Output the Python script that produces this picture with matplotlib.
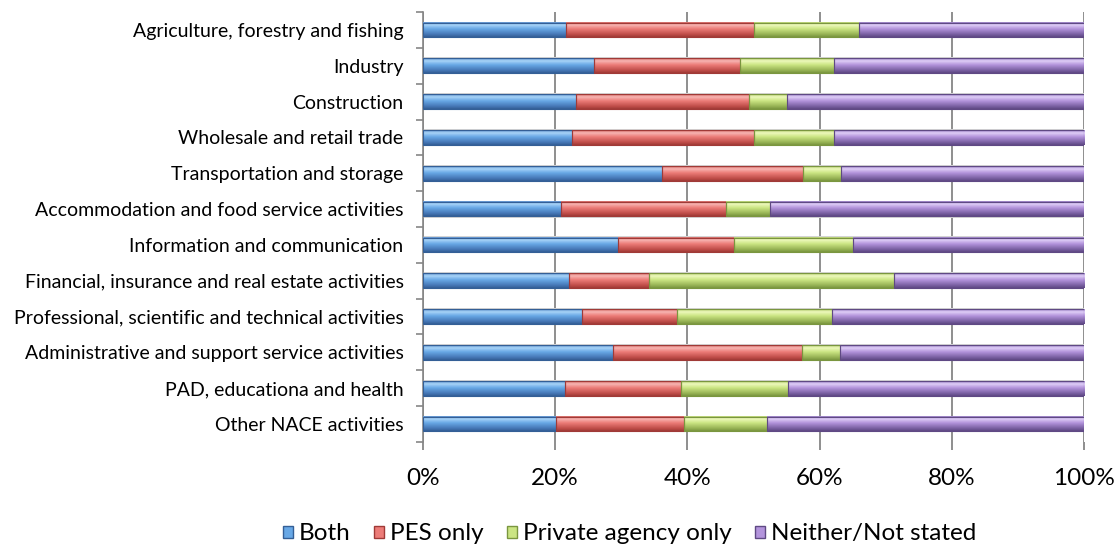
import numpy as np
import matplotlib
matplotlib.use("Agg")
import matplotlib.pyplot as plt
from matplotlib.colors import LinearSegmentedColormap
from matplotlib.patches import Patch
from matplotlib.ticker import FixedLocator, PercentFormatter

plt.rcParams["font.family"] = ["Lato", "DejaVu Sans"]

sectors = [
    "Agriculture, forestry and fishing",
    "Industry",
    "Construction",
    "Wholesale and retail trade",
    "Transportation and storage",
    "Accommodation and food service activities",
    "Information and communication",
    "Financial, insurance and real estate activities",
    "Professional, scientific and technical activities",
    "Administrative and support service activities",
    "PAD, educationa and health",
    "Other NACE activities",
]

# share of recruitment channel use, percent
both = [21.6, 25.8, 23.1, 22.6, 36.1, 20.9, 29.5, 22.1, 24.1, 28.7, 21.5, 20.1]
pes_only = [28.5, 22.1, 26.2, 27.5, 21.4, 25.0, 17.6, 12.1, 14.3, 28.7, 17.5, 19.4]
private_only = [15.9, 14.3, 5.8, 12.0, 5.8, 6.6, 18.0, 37.0, 23.4, 5.7, 16.2, 12.6]
neither = [34.0, 37.8, 44.9, 37.9, 36.7, 47.5, 34.9, 28.8, 38.2, 36.9, 44.8, 47.9]

series_names = ["Both", "PES only", "Private agency only", "Neither/Not stated"]
series_values = [both, pes_only, private_only, neither]

# shading for the bevelled bars: top edge, highlight, body, shadow, bottom edge
shades = {
    "Both": ["#5b8fcc", "#a9d4f8", "#68a8e6", "#4677b6", "#345f96"],
    "PES only": ["#d16662", "#f8b6b3", "#ec7c78", "#c04e4a", "#a03a37"],
    "Private agency only": ["#b2cc6c", "#eef9bd", "#cbe583", "#97b355", "#7a963f"],
    "Neither/Not stated": ["#957ac0", "#e0cff8", "#b394dc", "#7a60a2", "#5f4984"],
}
stops = [0.0, 0.18, 0.45, 0.82, 1.0]

fig = plt.figure(figsize=(11.18, 5.46), dpi=100)
ax = fig.add_axes([0.3784, 0.1905, 0.5912, 0.7875])

y = np.arange(len(sectors))
bar_h = 0.41
left = np.zeros(len(sectors))
totals = np.sum(series_values, axis=0)

# faint grey shadow behind each full bar
ax.barh(y, totals, height=bar_h + 0.06, color="#d4d4d4", zorder=2)

for name, vals in zip(series_names, series_values):
    cols = shades[name]
    cmap = LinearSegmentedColormap.from_list(name, list(zip(stops, cols)))
    grad = np.linspace(0, 1, 64).reshape(-1, 1)
    for yi, l, w in zip(y, left, vals):
        ax.imshow(grad, cmap=cmap, aspect="auto", interpolation="bilinear",
                  extent=(l, l + w, yi + bar_h / 2, yi - bar_h / 2), zorder=3)
    ax.barh(y, vals, left=left, height=bar_h, facecolor="none",
            edgecolor=cols[4], linewidth=0.8, zorder=4)
    left += np.array(vals)

ax.set_xlim(0, 100)
ax.set_ylim(len(sectors) - 0.5, -0.5)

ax.xaxis.set_major_locator(FixedLocator([0, 20, 40, 60, 80, 100]))
ax.xaxis.set_major_formatter(PercentFormatter(xmax=100, decimals=0))
ax.grid(axis="x", color="#868686", linewidth=1.3, zorder=0)
ax.set_axisbelow(True)

ax.set_yticks(y)
ax.set_yticklabels(sectors, fontsize=14)
ax.yaxis.set_minor_locator(FixedLocator(np.arange(-0.5, len(sectors), 1.0)))
ax.tick_params(axis="y", which="major", length=0, pad=14)
ax.tick_params(axis="y", which="minor", length=5, color="#868686", width=1.2)
ax.tick_params(axis="x", length=6, color="#868686", width=1.3, labelsize=17.5, pad=13)

for side in ["top", "right", "bottom"]:
    ax.spines[side].set_visible(False)
ax.spines["left"].set_color("#868686")
ax.spines["left"].set_linewidth(1.2)

handles = [Patch(facecolor=shades[n][2], edgecolor=shades[n][4], label=n)
           for n in series_names]
fig.legend(handles=handles, loc="center", bbox_to_anchor=(0.563, 0.022),
           ncol=4, frameon=False, fontsize=17.5, handlelength=0.42,
           handleheight=0.42, handletextpad=0.25, columnspacing=0.95,
           borderpad=0, borderaxespad=0)

fig.savefig("out.png", dpi=100)
